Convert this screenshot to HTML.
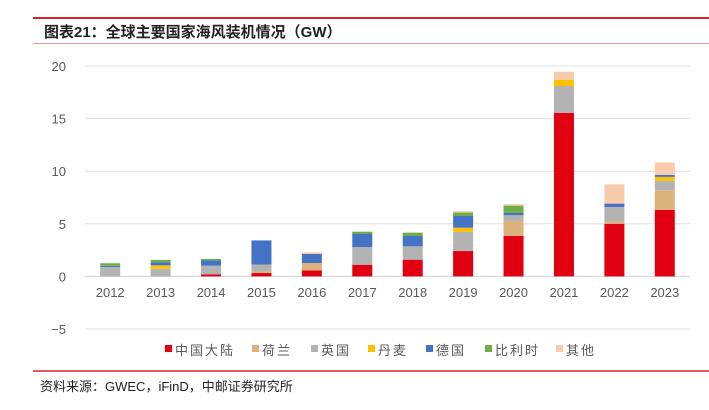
<!DOCTYPE html>
<html><head><meta charset="utf-8"><style>
body{margin:0;width:709px;height:405px;background:#fff;overflow:hidden;font-family:"Liberation Sans","Noto Sans CJK SC",sans-serif;}
</style></head><body>
<svg width="709" height="405" xmlns="http://www.w3.org/2000/svg">
<line x1="33" y1="18" x2="709" y2="18" stroke="#d9242a" stroke-width="2"/>
<text x="44" y="37" font-size="15" font-weight="bold" fill="#222" font-family="'Liberation Sans','Noto Sans CJK SC',sans-serif">图表21：全球主要国家海风装机情况（GW）</text>
<line x1="33" y1="43.5" x2="709" y2="43.5" stroke="#e89a9a" stroke-width="1"/>
<g id="grid"></g>
<g id="bars"></g>
<g id="legend"></g>
<line x1="33" y1="371" x2="709" y2="371" stroke="#d9242a" stroke-width="1.5"/>
<text x="40" y="391" font-size="13" fill="#222" font-family="'Liberation Sans','Noto Sans CJK SC',sans-serif">资料来源：GWEC，iFinD，中邮证券研究所</text>
</svg>
<script>
const years=["2012","2013","2014","2015","2016","2017","2018","2019","2020","2021","2022","2023"];
const seriesNames=["中国大陆","荷兰","英国","丹麦","德国","比利时","其他"];
const seriesColors=["#e00012","#dbb27c","#b3b3b3","#ffc000","#4472c4","#70ad47","#f8cbad"];
const china=[0,0,0.2,0.32,0.57,1.11,1.59,2.41,3.84,15.55,5.0,6.32];
const netherlands=[0,0,0,0.15,0.7,0,0,0,1.43,0,0.25,1.87];
const uk=[0.9,0.73,0.82,0.66,0,1.68,1.27,1.84,0.54,2.55,1.35,0.89];
const denmark=[0,0.32,0,0,0,0,0,0.38,0,0.6,0,0.38];
const germany=[0.1,0.3,0.5,2.29,0.86,1.24,0.98,1.11,0.22,0,0.32,0.19];
const belgium=[0.25,0.22,0.14,0,0,0.22,0.32,0.33,0.7,0,0,0];
const others=[0,0,0,0,0.15,0,0,0.13,0.13,0.75,1.84,1.18];
const yTicks=[-5,0,5,10,15,20];
const series=[china,netherlands,uk,denmark,germany,belgium,others];
const NS="http://www.w3.org/2000/svg";
const x0=85,x1=690,yTop=66,yBot=329,vMin=-5,vMax=20;
const y=v=>yBot-(v-vMin)/(vMax-vMin)*(yBot-yTop);
const band=(x1-x0)/years.length;
const xc=i=>x0+band*(i+0.5);
function mk(t,a,p){const e=document.createElementNS(NS,t);for(const k in a)e.setAttribute(k,a[k]);p.appendChild(e);return e;}
const grid=document.getElementById('grid');
yTicks.forEach(v=>{
 const l=mk('line',{x1:x0,x2:x1,y1:y(v),y2:y(v),stroke:v===0?'#d0d0d0':'#e0e0e0','stroke-width':1},grid);
 
 
 const t=mk('text',{x:66,y:y(v)+5,'text-anchor':'end','font-size':13,fill:'#595959'},grid);
 t.textContent=v<0?'−'+Math.abs(v):String(v);
 
 
});
const bars=document.getElementById('bars');
years.forEach((yr,i)=>{
 let acc=0;
 series.forEach((s,k)=>{
  const v=s[i]; if(v<=0)return;
  const r=mk('rect',{x:xc(i)-10,width:20,y:y(acc+v),height:y(acc)-y(acc+v),fill:seriesColors[k]},bars);
  
  
  acc+=v;
 });
 const t=mk('text',{x:xc(i),y:297,'text-anchor':'middle','font-size':13,fill:'#595959'},bars);
 t.textContent=yr;
 
 
});
const leg=document.getElementById('legend');
const lx=[165,252,311,368,426,485,556];
seriesNames.forEach((n,k)=>{
 const g=mk('g',{},leg);
 
 
 mk('rect',{x:lx[k],y:345,width:7,height:7,fill:seriesColors[k]},g);
 const t=mk('text',{x:lx[k]+10,y:355,'font-size':13,fill:'#595959','letter-spacing':'2'},g);
 t.textContent=n;
});
</script>
</body></html>
